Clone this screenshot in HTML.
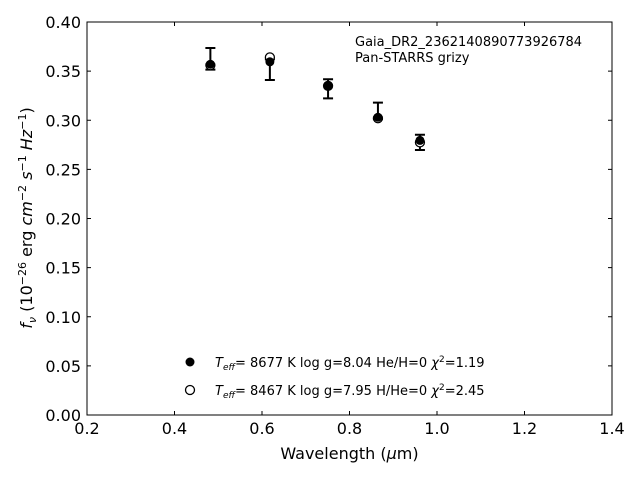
<!DOCTYPE html>
<html><head><meta charset="utf-8"><style>
body{margin:0;background:#fff;width:640px;height:480px;overflow:hidden}
svg{font-family:"DejaVu Sans","Liberation Sans",sans-serif}
</style></head><body>
<svg id="chart" width="640" height="480" xmlns="http://www.w3.org/2000/svg">
<rect x="87" y="22" width="525" height="393" fill="none" stroke="#000" stroke-width="1"/>
<g id="ticks"></g>
<g id="marks"></g>
<text x="349.5" y="459" font-size="16" text-anchor="middle">Wavelength (<tspan font-style="italic">μ</tspan>m)</text>
<text transform="translate(32,218) rotate(-90)" font-size="16" text-anchor="middle"><tspan font-style="italic">f<tspan font-size="11" dy="4">ν</tspan></tspan><tspan dy="-4"> (10</tspan><tspan font-size="11" dy="-6">−26</tspan><tspan dy="6"> erg </tspan><tspan font-style="italic">cm</tspan><tspan font-size="11" dy="-6">−2</tspan><tspan dy="6"> </tspan><tspan font-style="italic">s</tspan><tspan font-size="11" dy="-6">−1</tspan><tspan dy="6"> </tspan><tspan font-style="italic">Hz</tspan><tspan font-size="11" dy="-6">−1</tspan><tspan dy="6">)</tspan></text>
<text x="355" y="46" font-size="13">Gaia_DR2_2362140890773926784</text>
<text x="355" y="62" font-size="13">Pan-STARRS grizy</text>
<g>
<circle cx="190" cy="362" r="4.5" fill="#000"/>
<text x="215" y="367" font-size="13"><tspan font-style="italic">T<tspan font-size="9" dy="3">eff</tspan></tspan><tspan dy="-3">=  8677 K  log g=8.04  He/H=0  </tspan><tspan font-style="italic">χ</tspan><tspan font-size="9" dy="-5">2</tspan><tspan dy="5">=1.19</tspan></text>
<circle cx="190" cy="390" r="4.5" fill="#fff" stroke="#000" stroke-width="1.3"/>
<text x="215" y="395" font-size="13"><tspan font-style="italic">T<tspan font-size="9" dy="3">eff</tspan></tspan><tspan dy="-3">=  8467 K  log g=7.95  H/He=0  </tspan><tspan font-style="italic">χ</tspan><tspan font-size="9" dy="-5">2</tspan><tspan dy="5">=2.45</tspan></text>
</g>
</svg>
<script>
const wavelengths=[0.482,0.618,0.751,0.865,0.961];
const obsFlux=[0.3625,0.3515,0.332,0.3095,0.2775];
const obsErr=[0.011,0.0105,0.0097,0.0085,0.0078];
const model1Flux=[0.357,0.3595,0.335,0.303,0.2795];
const model2Flux=[0.356,0.364,0.335,0.302,0.2775];
const xTicks=[0.2,0.4,0.6,0.8,1.0,1.2,1.4];
const yTicks=[0,0.05,0.1,0.15,0.2,0.25,0.3,0.35,0.4];
const NS="http://www.w3.org/2000/svg";
const X=v=>87+(v-0.2)/1.2*525;
const Y=v=>415-v/0.4*393;
function mk(tag,attrs,parent){const e=document.createElementNS(NS,tag);for(const k in attrs)e.setAttribute(k,attrs[k]);parent.appendChild(e);return e;}
const tg=document.getElementById('ticks');
xTicks.forEach(t=>{
 const l=mk('line',{x1:X(t),x2:X(t),y1:415,y2:411,stroke:'#000'},tg);
 
 
 const l2=mk('line',{x1:X(t),x2:X(t),y1:22,y2:26,stroke:'#000'},tg);
 
 
 const tx=mk('text',{x:X(t),y:434,'font-size':16,'text-anchor':'middle'},tg);
 tx.textContent=t.toFixed(1);
 
 
});
yTicks.forEach(t=>{
 const l=mk('line',{x1:87,x2:91,y1:Y(t),y2:Y(t),stroke:'#000'},tg);
 
 
 const l2=mk('line',{x1:608,x2:612,y1:Y(t),y2:Y(t),stroke:'#000'},tg);
 
 
 const tx=mk('text',{x:81,y:Y(t)+6,'font-size':16,'text-anchor':'end'},tg);
 tx.textContent=t.toFixed(2);
 
 
});
const mg=document.getElementById('marks');
wavelengths.forEach((w,i)=>{
 const x=X(w),t=Y(obsFlux[i]+obsErr[i]),b=Y(obsFlux[i]-obsErr[i]);
 const e=mk('path',{d:`M${x},${t}V${b}M${x-5},${t}H${x+5}M${x-5},${b}H${x+5}`,stroke:'#000','stroke-width':2,fill:'none'},mg);
 
 
 const o=mk('circle',{cx:x,cy:Y(model2Flux[i]),r:4.5,fill:'#fff',stroke:'#000','stroke-width':1.3},mg);
 
 
 const f=mk('circle',{cx:x,cy:Y(model1Flux[i]),r:4.5,fill:'#000'},mg);
 
 
});
</script>
</body></html>
